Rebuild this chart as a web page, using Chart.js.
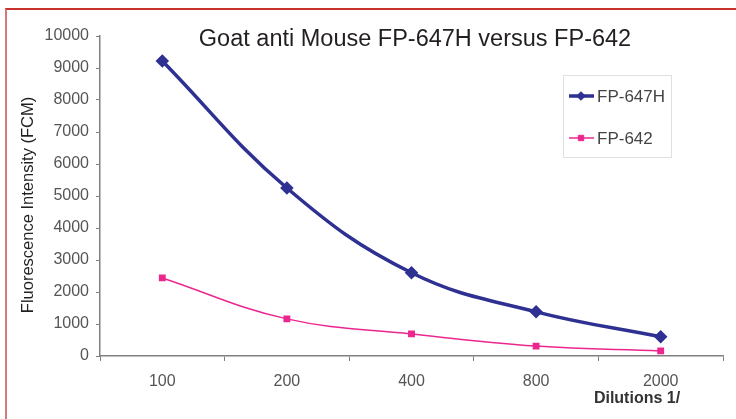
<!DOCTYPE html>
<html>
<head>
<meta charset="utf-8">
<script src="https://cdn.jsdelivr.net/npm/chart.js@4"></script>
<style>
  body { margin: 0; background: #fff; }
  #wrap { position: relative; width: 736px; height: 419px; overflow: hidden; }
  #frame { position: absolute; left: 5px; top: 8px; width: 740px; height: 420px;
           border-top: 2px solid #c8302c; border-left: 2px solid #d47a7a; box-sizing: border-box; }
  canvas { position: absolute; left: 0; top: 0; }
</style>
</head>
<body>
<div id="wrap">
  <div id="frame"></div>
  <canvas id="graph" width="736" height="419"></canvas>
</div>
<script>
const dilutions = ['100', '200', '400', '800', '2000'];
const fp647h = [9220, 5250, 2600, 1380, 600];
const fp642 = [2440, 1160, 690, 310, 160];
const chartTitle = 'Goat anti Mouse FP-647H versus FP-642';
const yTitle = 'Fluorescence Intensity (FCM)';
const xTitle = 'Dilutions 1/';

window.onload = function() {
    const font = "'Liberation Sans', Arial, sans-serif";

    // titles and legend box, drawn on top of the chart
    const extras = {
        id: 'extras',
        afterDraw(chart) {
            const ctx = chart.ctx;
            ctx.save();
            ctx.fillStyle = '#231f20';
            ctx.font = '23.5px ' + font;
            ctx.textAlign = 'center';
            ctx.textBaseline = 'middle';
            ctx.fillText(chartTitle, 415, 40);

            ctx.font = '16.5px ' + font;
            ctx.save();
            ctx.translate(28, 205);
            ctx.rotate(-Math.PI / 2);
            ctx.fillText(yTitle, 0, 0);
            ctx.restore();

            ctx.font = 'bold 16px ' + font;
            ctx.fillStyle = '#333';
            ctx.fillText(xTitle, 637, 399);

            // legend
            ctx.strokeStyle = '#e0e0e0';
            ctx.lineWidth = 1;
            ctx.strokeRect(563.5, 75.5, 108, 82);
            const rows = [96, 138];
            chart.data.datasets.forEach((ds, i) => {
                const y = rows[i];
                ctx.strokeStyle = ds.borderColor;
                ctx.lineWidth = ds.borderWidth;
                ctx.beginPath();
                ctx.moveTo(569, y);
                ctx.lineTo(594, y);
                ctx.stroke();
                ctx.fillStyle = ds.borderColor;
                ctx.lineWidth = 1;
                Chart.helpers.drawPoint(ctx, {pointStyle: ds.pointStyle, rotation: 0, borderWidth: 1, radius: ds.pointRadius}, 581, y);
                ctx.fillStyle = '#444';
                ctx.font = '17px ' + font;
                ctx.textAlign = 'left';
                ctx.fillText(ds.label, 597, y + 1);
            });
            ctx.restore();
        }
    };

    new Chart(document.getElementById('graph'), {
        type: 'line',
        data: {
            labels: dilutions,
            datasets: [{
                label: 'FP-647H',
                data: fp647h,
                borderColor: '#2e3192',
                backgroundColor: '#2e3192',
                borderWidth: 3.5,
                pointStyle: 'rectRot',
                pointRadius: 4.3,
                pointHoverRadius: 4.3,
                tension: 0.4
            }, {
                label: 'FP-642',
                data: fp642,
                borderColor: '#ec268f',
                backgroundColor: '#ec268f',
                borderWidth: 1.5,
                pointStyle: 'rect',
                pointRadius: 3.8,
                pointHoverRadius: 3.8,
                tension: 0.4
            }]
        },
        options: {
            responsive: false,
            animation: false,
            layout: { padding: { left: 0, top: 36, right: 13, bottom: 0 } },
            plugins: { legend: { display: false }, title: { display: false }, tooltip: { enabled: false } },
            scales: {
                x: {
                    offset: true,
                    grid: { offset: true, drawOnChartArea: false, tickLength: 5, color: '#808080' },
                    border: { color: '#808080', width: 1.5 },
                    ticks: { color: '#555', font: { size: 16, family: font }, padding: 11, maxRotation: 0 },
                    afterFit(scale) { scale.height = 63; }
                },
                y: {
                    min: 0,
                    max: 10000,
                    ticks: { stepSize: 1000, color: '#555', font: { size: 16, family: font }, padding: 7,
                             callback: v => String(v) },
                    grid: { drawOnChartArea: false, tickLength: 4, color: '#808080' },
                    border: { color: '#808080', width: 1.5 },
                    afterFit(scale) { scale.width = 100; }
                }
            }
        },
        plugins: [extras]
    });
}
</script>
</body>
</html>
